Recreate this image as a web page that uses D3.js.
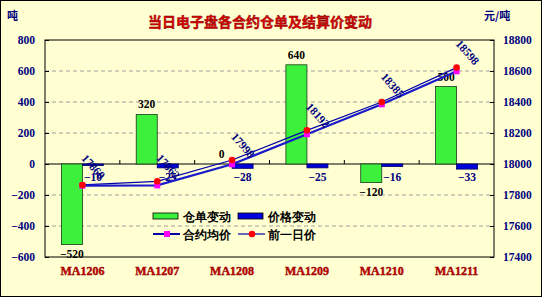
<!DOCTYPE html>
<html>
<head>
<meta charset="utf-8">
<script src="https://cdn.jsdelivr.net/npm/d3@7"></script>
<style>
  body { margin: 0; background: #fff; }
  text { font-family: "Liberation Serif", serif; font-weight: bold; }
  .cjk { font-family: "Noto Sans CJK SC", sans-serif; }
</style>
</head>
<body>
<div id="chart-area"></div>
<script>
const categories = ["MA1206", "MA1207", "MA1208", "MA1209", "MA1210", "MA1211"];
const stockChange = [-520, 320, 0, 640, -120, 500];
const priceChange = [-10, -25, -28, -25, -16, -33];
const avgPrice = [17860, 17862, 17998, 18192, 18385, 18598];
const prevPrice = [17865, 17888, 18026, 18217, 18400, 18622];
const leftTicks = [-600, -400, -200, 0, 200, 400, 600, 800];
const rightTicks = [17400, 17600, 17800, 18000, 18200, 18400, 18600, 18800];

const W = 542, H = 297;
const plot = { left: 45, right: 494, top: 40, bottom: 257 };
const navy = "#000080";

const svg = d3.select("#chart-area")
  .append("svg")
    .attr("width", W)
    .attr("height", H);

svg.append("rect")
  .attr("x", 0.5).attr("y", 0.5)
  .attr("width", W - 1).attr("height", H - 1)
  .attr("fill", "#ffffd2")
  .attr("stroke", "#000");

const x = d3.scaleBand()
  .domain(categories)
  .range([plot.left, plot.right]);

const xSub = d3.scaleBand()
  .domain(["stock", "price"])
  .range([0, x.bandwidth()])
  .paddingInner(0)
  .paddingOuter(0.78);

const y = d3.scaleLinear()
  .domain([-600, 800])
  .range([plot.bottom, plot.top]);

const yR = d3.scaleLinear()
  .domain([17400, 18800])
  .range([plot.bottom, plot.top]);

// gridlines
svg.append("g")
  .selectAll("line")
  .data(leftTicks.filter(d => d !== 0 && d !== -600 && d !== 800))
  .join("line")
    .attr("x1", plot.left).attr("x2", plot.right)
    .attr("y1", d => y(d)).attr("y2", d => y(d))
    .attr("stroke", "#a0a0a0")
    .attr("stroke-dasharray", "4,3");

// plot frame
svg.append("rect")
  .attr("x", plot.left).attr("y", plot.top)
  .attr("width", plot.right - plot.left)
  .attr("height", plot.bottom - plot.top)
  .attr("fill", "none")
  .attr("stroke", "#000");

// axes
const yAxis = svg.append("g")
  .attr("transform", `translate(${plot.left},0)`)
  .call(d3.axisRight(y).tickValues(leftTicks).tickSize(4).tickFormat(""));
yAxis.select(".domain").remove();
svg.append("g")
  .selectAll("text")
  .data(leftTicks)
  .join("text")
    .attr("x", 35)
    .attr("y", d => y(d) + 4)
    .attr("text-anchor", "end")
    .attr("font-size", "11.5px")
    .attr("fill", navy)
    .text(d => d < 0 ? "\u2212" + Math.abs(d) : d);

const yRAxis = svg.append("g")
  .attr("transform", `translate(${plot.right},0)`)
  .call(d3.axisLeft(yR).tickValues(rightTicks).tickSize(4).tickFormat(""));
yRAxis.select(".domain").remove();
svg.append("g")
  .selectAll("text")
  .data(rightTicks)
  .join("text")
    .attr("x", 503)
    .attr("y", d => yR(d) + 4)
    .attr("font-size", "11.5px")
    .attr("fill", navy)
    .text(d => d);

// zero line with category ticks
svg.append("line")
  .attr("x1", plot.left).attr("x2", plot.right)
  .attr("y1", y(0)).attr("y2", y(0))
  .attr("stroke", "#000");
svg.append("g")
  .selectAll("line")
  .data(categories.slice(1))
  .join("line")
    .attr("x1", d => x(d)).attr("x2", d => x(d))
    .attr("y1", y(0)).attr("y2", y(0) - 4)
    .attr("stroke", "#000");

// category labels
svg.append("g")
  .selectAll("text")
  .data(categories)
  .join("text")
    .attr("x", d => x(d) + x.bandwidth() / 2)
    .attr("y", 275)
    .attr("text-anchor", "middle")
    .attr("font-size", "12px")
    .attr("fill", "#cc0000")
    .attr("stroke", "#880000")
    .attr("stroke-width", 0.4)
    .text(d => d);

// bars
const stockData = categories.map((c, i) => ({ c, v: stockChange[i] }));
const priceData = categories.map((c, i) => ({ c, v: priceChange[i] }));

svg.append("g")
  .selectAll("rect")
  .data(stockData)
  .join("rect")
    .attr("x", d => x(d.c) + xSub("stock"))
    .attr("y", d => y(Math.max(0, d.v)))
    .attr("width", xSub.bandwidth())
    .attr("height", d => Math.abs(y(d.v) - y(0)))
    .attr("fill", "#3cf03c")
    .attr("stroke", "#1a3a1a")
    .attr("stroke-width", 0.8);

svg.append("g")
  .selectAll("rect")
  .data(priceData)
  .join("rect")
    .attr("x", d => x(d.c) + xSub("price"))
    .attr("y", d => y(Math.max(0, d.v)))
    .attr("width", xSub.bandwidth())
    .attr("height", d => Math.abs(y(d.v) - y(0)))
    .attr("fill", "#0000dd")
    .attr("stroke", "#000060")
    .attr("stroke-width", 0.8);

// bar labels
svg.append("g")
  .selectAll("text")
  .data(stockData)
  .join("text")
    .attr("x", d => x(d.c) + xSub("stock") + xSub.bandwidth() / 2)
    .attr("y", d => d.v >= 0 ? y(d.v) - 6 : y(d.v) + 13)
    .attr("text-anchor", "middle")
    .attr("font-size", "11.5px")
    .attr("fill", "#000")
    .text(d => d.v < 0 ? "\u2212" + Math.abs(d.v) : d.v);

svg.append("g")
  .selectAll("text")
  .data(priceData)
  .join("text")
    .attr("x", d => x(d.c) + xSub("price") + xSub.bandwidth() / 2)
    .attr("y", 181)
    .attr("text-anchor", "middle")
    .attr("font-size", "11.5px")
    .attr("fill", navy)
    .text(d => d.v < 0 ? "\u2212" + Math.abs(d.v) : d.v);

// lines
const cx = c => x(c) + x.bandwidth() / 2;
const prevPts = categories.map((c, i) => ({ c, v: prevPrice[i] }));
const avgPts = categories.map((c, i) => ({ c, v: avgPrice[i] }));
const line = d3.line().x(d => cx(d.c)).y(d => yR(d.v));

svg.append("path")
  .datum(prevPts)
  .attr("d", line)
  .attr("fill", "none")
  .attr("stroke", "#0000aa")
  .attr("stroke-width", 1.2);

svg.append("path")
  .datum(avgPts)
  .attr("d", line)
  .attr("fill", "none")
  .attr("stroke", "#1a1acc")
  .attr("stroke-width", 2.2);

svg.append("g")
  .selectAll("rect")
  .data(avgPts)
  .join("rect")
    .attr("x", d => cx(d.c) - 3)
    .attr("y", d => yR(d.v) - 3)
    .attr("width", 6).attr("height", 6)
    .attr("fill", "#ff00ff");

svg.append("g")
  .selectAll("circle")
  .data(prevPts)
  .join("circle")
    .attr("cx", d => cx(d.c))
    .attr("cy", d => yR(d.v))
    .attr("r", 3.3)
    .attr("fill", "#ff0000");

// price labels (rotated)
svg.append("g")
  .selectAll("text")
  .data(avgPts)
  .join("text")
    .attr("transform", d => `translate(${cx(d.c) + 11},${yR(d.v) - 19}) rotate(48)`)
    .attr("text-anchor", "middle")
    .attr("dy", "0.35em")
    .attr("font-size", "11.5px")
    .attr("fill", navy)
    .text(d => d.v);

// titles
svg.append("text")
  .attr("class", "cjk")
  .attr("x", 260)
  .attr("y", 27)
  .attr("text-anchor", "middle")
  .attr("font-size", "14px")
  .attr("fill", "#dd0000")
  .attr("stroke", "#800000")
  .attr("stroke-width", 0.4)
  .text("当日电子盘各合约仓单及结算价变动");

svg.append("text")
  .attr("class", "cjk")
  .attr("x", 7).attr("y", 20)
  .attr("font-size", "11px")
  .attr("fill", navy)
  .text("吨");

svg.append("text")
  .attr("class", "cjk")
  .attr("x", 484).attr("y", 20)
  .attr("font-size", "11px")
  .attr("fill", navy)
  .text("元/吨");

// legend
const legend = svg.append("g").attr("class", "cjk");
const legendItems = [
  { label: "仓单变动", type: "bar", fill: "#3cf03c", lx: 153, ly: 216 },
  { label: "价格变动", type: "bar", fill: "#0000dd", lx: 238, ly: 216 },
  { label: "合约均价", type: "avg", lx: 153, ly: 234 },
  { label: "前一日价", type: "prev", lx: 238, ly: 234 }
];
legendItems.forEach(item => {
  if (item.type === "bar") {
    legend.append("rect")
      .attr("x", item.lx).attr("y", item.ly - 3)
      .attr("width", 25).attr("height", 6)
      .attr("fill", item.fill)
      .attr("stroke", "#000").attr("stroke-width", 0.8);
  } else {
    legend.append("line")
      .attr("x1", item.lx).attr("x2", item.lx + 27)
      .attr("y1", item.ly).attr("y2", item.ly)
      .attr("stroke", "#0000aa")
      .attr("stroke-width", item.type === "avg" ? 2 : 1.2);
    if (item.type === "avg") {
      legend.append("rect")
        .attr("x", item.lx + 11).attr("y", item.ly - 3)
        .attr("width", 6).attr("height", 6)
        .attr("fill", "#ff00ff");
    } else {
      legend.append("circle")
        .attr("cx", item.lx + 14).attr("cy", item.ly)
        .attr("r", 3.3).attr("fill", "#ff0000");
    }
  }
  legend.append("text")
    .attr("x", item.lx + 30)
    .attr("y", item.ly + 4.5)
    .attr("font-size", "12px")
    .attr("font-weight", "bold")
    .attr("fill", "#000")
    .text(item.label);
});
</script>
</body>
</html>
